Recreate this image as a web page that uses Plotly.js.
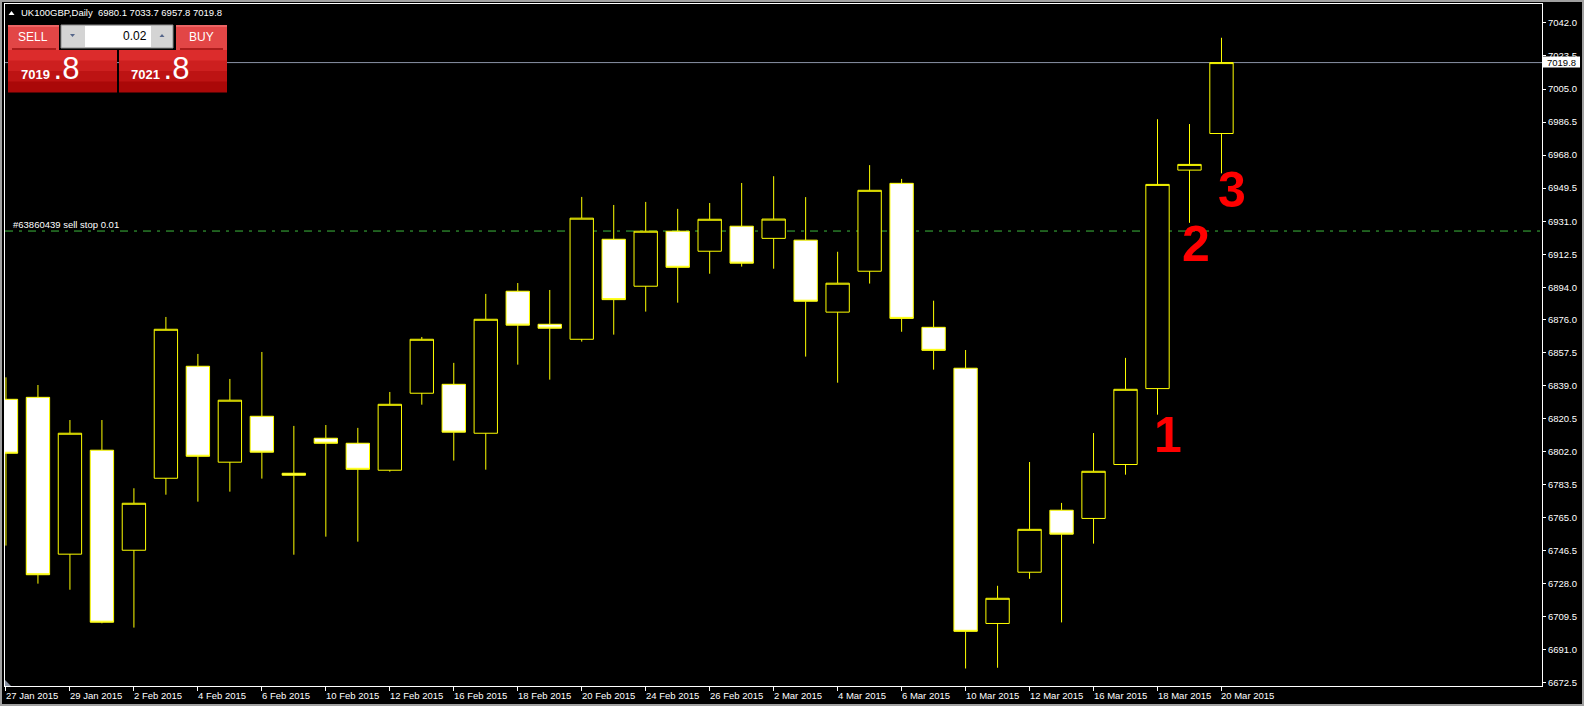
<!DOCTYPE html>
<html><head><meta charset="utf-8">
<script src="https://cdn.plot.ly/plotly-3.0.1.min.js"></script>
<style>html,body{margin:0;padding:0;background:#000;overflow:hidden}#chart{width:1584px;height:706px}</style>
</head><body><div id="chart"></div>
<script>
// ---------- data ----------
const dates = ["27 Jan 2015","28 Jan 2015","29 Jan 2015","30 Jan 2015","2 Feb 2015","3 Feb 2015","4 Feb 2015","5 Feb 2015","6 Feb 2015","9 Feb 2015","10 Feb 2015","11 Feb 2015","12 Feb 2015","13 Feb 2015","16 Feb 2015","17 Feb 2015","18 Feb 2015","19 Feb 2015","20 Feb 2015","23 Feb 2015","24 Feb 2015","25 Feb 2015","26 Feb 2015","27 Feb 2015","2 Mar 2015","3 Mar 2015","4 Mar 2015","5 Mar 2015","6 Mar 2015","9 Mar 2015","10 Mar 2015","11 Mar 2015","12 Mar 2015","13 Mar 2015","16 Mar 2015","17 Mar 2015","18 Mar 2015","19 Mar 2015","20 Mar 2015"];
const openP  = [6831.3,6832.4,6744.6,6802.8,6746.8,6787.1,6849.8,6796.1,6821.8,6789.9,6809.5,6806.7,6791.6,6834.7,6839.7,6812.3,6891.8,6873.3,6864.9,6920.9,6894.6,6925.4,6914.2,6928.2,6921.4,6920.4,6880.1,6903.0,6952.2,6871.6,6848.7,6705.8,6734.5,6769.2,6764.6,6794.8,6837.3,6959.6,6980.1];
const highP  = [6843.6,6839.3,6819.7,6819.7,6781.5,6877.4,6856.7,6842.7,6857.8,6816.4,6816.9,6815.3,6835.4,6866.2,6851.7,6890.3,6896.4,6892.5,6944.6,6940.1,6941.8,6937.9,6941.2,6952.4,6956.2,6944.5,6913.9,6962.4,6954.7,6886.5,6858.9,6726.9,6796.2,6773.3,6812.4,6854.5,6988.1,6985.4,7033.7];
const lowP   = [6749.4,6728.1,6724.7,6705.9,6703.5,6777.9,6774.0,6779.6,6786.9,6744.3,6754.4,6751.6,6790.8,6828.3,6797.0,6791.9,6850.7,6842.3,6863.6,6867.5,6880.4,6885.4,6901.6,6905.6,6904.4,6855.2,6840.6,6896.1,6869.1,6847.9,6680.6,6681.0,6730.8,6706.4,6750.5,6789.1,6822.7,6930.1,6957.8];
const closeP = [6801.1,6733.1,6812.3,6706.5,6773.1,6870.5,6799.4,6830.8,6801.7,6788.8,6806.7,6792.1,6828.5,6864.9,6812.9,6876.1,6872.8,6871.1,6932.7,6887.1,6925.4,6905.2,6932.1,6907.5,6932.2,6886.2,6896.3,6948.3,6876.6,6858.7,6701.4,6719.9,6758.5,6755.8,6791.0,6836.9,6951.6,6962.8,7019.8];
const tickLabels = ["27 Jan 2015","29 Jan 2015","2 Feb 2015","4 Feb 2015","6 Feb 2015","10 Feb 2015","12 Feb 2015","16 Feb 2015","18 Feb 2015","20 Feb 2015","24 Feb 2015","26 Feb 2015","2 Mar 2015","4 Mar 2015","6 Mar 2015","10 Mar 2015","12 Mar 2015","16 Mar 2015","18 Mar 2015","20 Mar 2015"];
const priceTicks = [6672.5,6691.0,6709.5,6728.0,6746.5,6765.0,6783.5,6802.0,6820.5,6839.0,6857.5,6876.0,6894.0,6912.5,6931.0,6949.5,6968.0,6986.5,7005.0,7023.5,7042.0];
const symbolName = "UK100GBP,Daily";
const askPrice = 7021.8;
const lotSize = "0.02";
const sellStopPrice = 6925.5;
const sellStopLabel = "#63860439 sell stop 0.01";
const markLabels = ["1","2","3"];
const markX = [36.33, 37.2, 38.33];
const markY = [6811.3, 6918.3, 6948.5];

// ---------- geometry helpers (pixel -> paper) ----------
const L = 5, R = 1542, T = 4, B = 686;
const px = x => (x - L) / (R - L);
const py = y => (B - y) / (B - T);
const FONT = "Liberation Sans, Arial, sans-serif";
const last = dates.length - 1;
const bid = closeP[last];

const shapes = [];
const ann = [];
function rect(x0, y0, x1, y1, fill, line, lw) {
  shapes.push({type:'rect', xref:'paper', yref:'paper', x0:px(x0), x1:px(x1), y0:py(y0), y1:py(y1),
    fillcolor: fill, line:{color: line || 'rgba(0,0,0,0)', width: lw || 0}, layer:'above'});
}
function pathPx(pts, fill) {
  let d = pts.map((p,i)=> (i?'L':'M') + px(p[0]) + ',' + py(p[1])).join(' ') + ' Z';
  shapes.push({type:'path', xref:'paper', yref:'paper', path:d, fillcolor:fill, line:{width:0}, layer:'above'});
}
function text(x, y, t, opts) {
  ann.push(Object.assign({xref:'paper', yref:'paper', x:px(x), y:py(y), text:t, showarrow:false,
    xanchor:'left', yanchor:'middle', font:{family:FONT, size:10, color:'#ffffff'}}, opts||{}));
}

// outer window border
shapes.push({type:'rect', xref:'paper', yref:'paper', x0:px(1), x1:px(1583), y0:py(1), y1:py(705),
  line:{color:'#a0a0a0', width:2}, fillcolor:'rgba(0,0,0,0)', layer:'above'});

// bid line
shapes.push({type:'line', xref:'paper', yref:'y', x0:0, x1:1, y0:bid, y1:bid, line:{color:'#8a93a6', width:1}, layer:'below'});
// sell stop line
shapes.push({type:'line', xref:'paper', yref:'y', x0:0, x1:1, y0:sellStopPrice, y1:sellStopPrice,
  line:{color:'#3cb83c', width:1, dash:'8px,6px,3px,6px'}, layer:'below'});

// header
pathPx([[8.5,15],[14.5,15],[11.5,11]], '#ffffff');
text(19, 12.5, symbolName + '\u00a0\u00a0' + [openP[last], highP[last], lowP[last], closeP[last]].map(v=>v.toFixed(1)).join(' '), {font:{family:FONT, size:9.5, color:'#ffffff'}});

// sell stop label
text(11, 224, sellStopLabel, {font:{family:FONT, size:9.5, color:'#ffffff'}});

// ---------- trade panel ----------
const bands = ['#dc2c2c','#cd1f1f','#bd1313','#aa0808'];
function lowerPanel(x0, x1) {
  const h = (92 - 50) / bands.length;
  bands.forEach((c,i)=> rect(x0, 50 + i*h, x1, 50 + (i+1)*h + 0.5, c));
}
lowerPanel(8, 117);
lowerPanel(119, 227);
rect(8, 25, 59, 50, '#e24646');
rect(176, 25, 227, 50, '#e24646');
rect(8, 25, 59, 27, '#ec6464');
rect(176, 25, 227, 27, '#ec6464');
shapes.push({type:'line', xref:'paper', yref:'paper', x0:px(12), x1:px(56), y0:py(49), y1:py(49), line:{color:'#9a0f0f', width:1.5}, layer:'above'});
shapes.push({type:'line', xref:'paper', yref:'paper', x0:px(180), x1:px(223), y0:py(49), y1:py(49), line:{color:'#9a0f0f', width:1.5}, layer:'above'});
// spinner
rect(61, 25, 173, 48, '#d4d4d4', '#8c8c8c', 1);
rect(85, 26, 151, 47, '#ffffff');
pathPx([[70,34],[75,34],[72.5,37]], '#55668a');
pathPx([[159.5,37],[164.5,37],[162,34]], '#55668a');
text(33, 37, 'SELL', {xanchor:'center', font:{family:FONT, size:12, color:'#ffffff'}});
text(201, 37, 'BUY', {xanchor:'center', font:{family:FONT, size:12, color:'#ffffff'}});
text(149, 36.5, lotSize, {xanchor:'right', font:{family:FONT, size:12, color:'#000000'}});
function priceText(x, v) {
  const s = v.toFixed(1).split('.');
  text(x, 88, '<b>' + s[0] + '</b> <span style="font-size:31px">.' + s[1] + '</span>',
    {yanchor:'bottom', font:{family:FONT, size:13, color:'#ffffff'}});
}
priceText(19, bid);
priceText(129, askPrice);

// bid price box on the axis
rect(1543, 56.5, 1580, 67.5, '#ffffff');
ann.push({xref:'paper', yref:'y', x:px(1561.5), y:bid, text:bid.toFixed(1), showarrow:false,
  xanchor:'center', yanchor:'middle', font:{family:FONT, size:9.5, color:'#000000'}});

// small marker bottom-left
pathPx([[5,680],[5,686],[11,686]], '#8890a0');

// date labels (left-aligned at their tick)
tickLabels.forEach(lbl => {
  ann.push({xref:'x', yref:'paper', x:dates.indexOf(lbl), y:py(695.5), text:lbl, showarrow:false,
    xanchor:'left', yanchor:'middle', xshift:-2, font:{family:FONT, size:9.5, color:'#ffffff'}});
});

// red marks
markLabels.forEach((m,i) => {
  ann.push({xref:'x', yref:'y', x:markX[i], y:markY[i], text:m, showarrow:false,
    xanchor:'center', yanchor:'middle', font:{family:FONT, size:50, color:'#ff0000', weight:'bold'}});
});

const trace = {
  type:'candlestick', x:dates, open:openP, high:highP, low:lowP, close:closeP,
  increasing:{line:{color:'#ffff00', width:1}, fillcolor:'#000000'},
  decreasing:{line:{color:'#ffff00', width:1}, fillcolor:'#ffffff'},
  whiskerwidth:0, hoverinfo:'skip', showlegend:false
};

const layout = {
  width:1584, height:706,
  margin:{l:L, r:1584-R, t:T, b:706-B, pad:0},
  paper_bgcolor:'#000000', plot_bgcolor:'#000000',
  showlegend:false, hovermode:false, dragmode:false,
  boxgap:0.27, boxgroupgap:0,
  xaxis:{type:'category', range:[-0.03, 48.02], showgrid:false, zeroline:false,
    rangeslider:{visible:false}, tickmode:'array', tickvals:tickLabels, showticklabels:false,
    ticks:'outside', ticklen:4, tickcolor:'#ffffff', tickwidth:1,
    showline:true, linecolor:'#ffffff', linewidth:1, mirror:true},
  yaxis:{side:'right', range:[6670.8, 7052.6], tickmode:'array', tickvals:priceTicks,
    ticktext:priceTicks.map(v=>v.toFixed(1)),
    showgrid:false, zeroline:false, ticks:'outside', ticklen:3, tickcolor:'#ffffff', tickwidth:1,
    tickfont:{family:FONT, size:9.5, color:'#ffffff'},
    showline:true, linecolor:'#ffffff', linewidth:1, mirror:true},
  shapes:shapes, annotations:ann
};

Plotly.newPlot('chart', [trace], layout, {staticPlot:true, displayModeBar:false});
</script></body></html>
